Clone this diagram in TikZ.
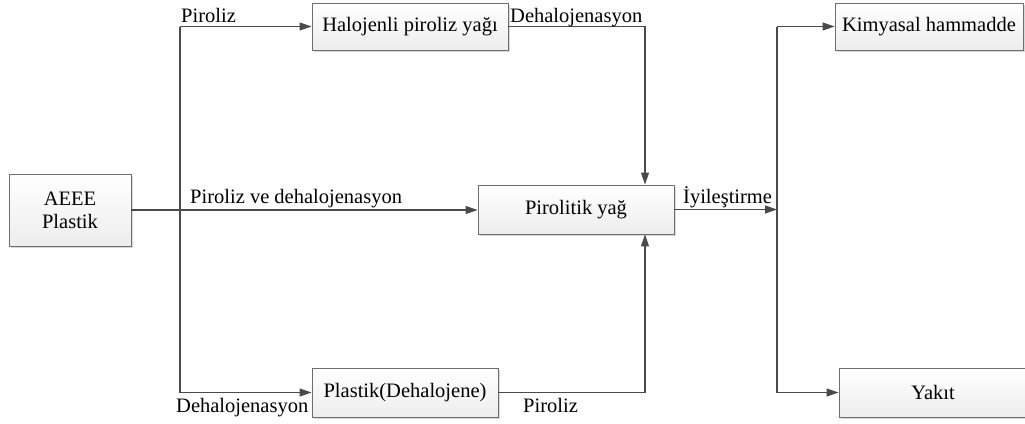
\documentclass[tikz,border=0pt]{standalone}
\usepackage{fontspec}
\setmainfont{Liberation Serif}
\usetikzlibrary{arrows.meta,shadows,calc}
\definecolor{linec}{HTML}{4A4A4A}
\definecolor{boxc}{HTML}{6E6E6E}
\begin{document}
\begin{tikzpicture}[x=1pt,y=1pt,
  every node/.style={font=\fontsize{20.5}{23}\selectfont},
  box/.style={draw=boxc, line width=0.9pt, top color=white, bottom color=gray!14,
    inner sep=0pt, align=center,
    drop shadow={shadow xshift=2pt, shadow yshift=-2pt, fill=black, opacity=0.15}},
  conn/.style={draw=linec, line width=1.1pt},
  arr/.style={conn, -{Triangle[length=12pt,width=8pt]}},
  lbl/.style={inner sep=0pt, anchor=base west}
]
\useasboundingbox (0,0) rectangle (1025,-423);
% boxes
\node[box, minimum width=122pt, minimum height=72pt] (aeee) at (70,-210) {AEEE\\Plastik};
\node[box, minimum width=196pt, minimum height=47pt] (halo) at (410,-26.5) {Halojenli piroliz yağı};
\node[box, minimum width=196pt, minimum height=49pt] (piro) at (576,-209.5) {Pirolitik yağ};
\node[box, minimum width=186pt, minimum height=49pt] (plas) at (405,-392.5) {Plastik(Dehalojene)};
\node[box, minimum width=188pt, minimum height=47pt] (kim) at (929,-26.5) {Kimyasal hammadde};
\node[box, minimum width=188pt, minimum height=49pt] (yak) at (933,-392.5) {Yakıt};
% coordinates
\coordinate (t1) at (180,-26.5);
\coordinate (b1) at (180,-392.5);
\coordinate (c1) at (645,-26.5);
\coordinate (c2) at (645,-392.5);
\coordinate (r0) at (777,-209.5);
\coordinate (r1) at (777,-26.5);
\coordinate (r2) at (777,-392.5);
% connectors
\draw[conn] (t1) -- (b1);
\draw[arr] (t1) -- (halo.west);
\draw[arr] (b1) -- (plas.west);
\draw[arr] (aeee.east) -- (aeee.east -| piro.west);
\draw[arr] (halo.east) -- (c1) -- (c1 |- piro.north);
\draw[arr] (plas.east) -- (c2) -- (c2 |- piro.south);
\draw[arr] (piro.east) -- (r0);
\draw[conn] (r1) -- (r2);
\draw[arr] (r1) -- (kim.west);
\draw[arr] (r2) -- (yak.west);
% labels
\node[lbl] (l1) at (181,-22) {Piroliz};
\node[lbl] (l2) at (190,-203) {Piroliz ve dehalojenasyon};
\node[lbl] (l3) at (510,-22) {Dehalojenasyon};
\node[lbl] (l4) at (683,-203) {İyileştirme};
\node[lbl] (l5) at (176,-412) {Dehalojenasyon};
\node[lbl] (l6) at (523,-412) {Piroliz};
\end{tikzpicture}
\end{document}
